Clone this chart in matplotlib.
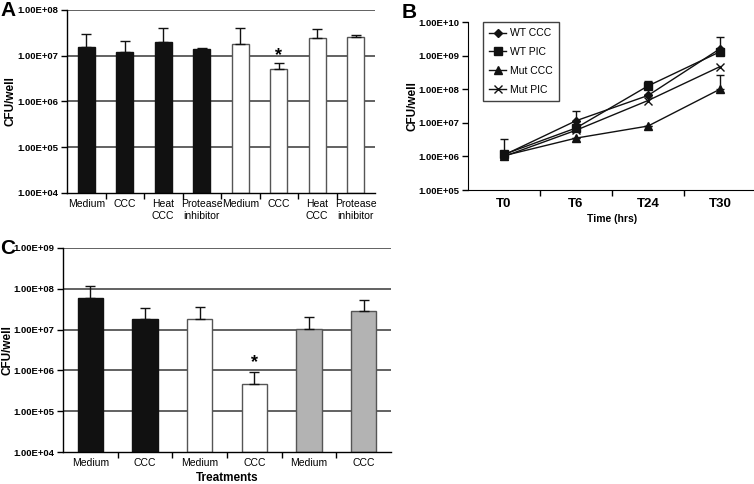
import matplotlib
matplotlib.use("Agg")
import matplotlib.pyplot as plt
import numpy as np
from matplotlib.ticker import FixedLocator, FuncFormatter

plt.rcParams['font.family'] = ['Liberation Sans', 'DejaVu Sans']
NARROW = ['Liberation Sans Narrow', 'Liberation Sans', 'DejaVu Sans']

# ---------------- data ----------------
a_labels = ["Medium", "CCC", "Heat\nCCC", "Protease\ninhibitor",
            "Medium", "CCC", "Heat\nCCC", "Protease\ninhibitor"]
a_values = [1.55e7, 1.18e7, 1.96e7, 1.37e7, 1.83e7, 5.2e6, 2.48e7, 2.6e7]
a_err_top = [3.0e7, 2.1e7, 4.1e7, 1.45e7, 4.1e7, 7.0e6, 3.8e7, 2.85e7]
a_colors = ["#111111"] * 4 + ["#ffffff"] * 4
a_star = 5

b_times = ["T0", "T6", "T24", "T30"]
b_wt_ccc = [1.1e6, 1.15e7, 6.5e7, 1.6e9]
b_wt_ccc_top = [3.2e6, 2.2e7, 6.5e7, 1.6e9]
b_wt_pic = [1.15e6, 7.0e6, 1.25e8, 1.3e9]
b_wt_pic_top = [1.15e6, 7.0e6, 1.75e8, 3.5e9]
b_mut_ccc = [1.05e6, 3.5e6, 8.0e6, 1.0e8]
b_mut_ccc_top = [1.05e6, 3.5e6, 8.0e6, 2.7e8]
b_mut_pic = [1.0e6, 6.0e6, 4.6e7, 4.7e8]

c_labels = ["Medium", "CCC", "Medium", "CCC", "Medium", "CCC"]
c_values = [6.1e7, 1.83e7, 1.87e7, 4.7e5, 1.06e7, 2.8e7]
c_err_top = [1.2e8, 3.4e7, 3.5e7, 9.0e5, 2.0e7, 5.4e7]
c_colors = ["#111111", "#111111", "#ffffff", "#ffffff", "#b3b3b3", "#b3b3b3"]
c_star = 3

W, H = 754, 484
fig = plt.figure(figsize=(W / 100, H / 100), dpi=100)

def rect(l, r, t, b):
    return [l / W, 1 - b / H, (r - l) / W, (b - t) / H]

sci = FuncFormatter(lambda v, p: f"{v:.2E}")

def place_ylabel(ax, text, xc_px, left_px, width_px):
    ax.set_ylabel(text, fontsize=8.5, fontweight='bold')
    ax.yaxis.set_label_coords((xc_px - left_px) / width_px, 0.5)
    ax.yaxis.label.set_verticalalignment('center')

def style_bar_axes(ax, n, ymin, ymax, labels):
    ax.set_yscale('log')
    ax.set_ylim(ymin, ymax)
    ax.set_xlim(-0.5, n - 0.5)
    decades = [10 ** k for k in range(int(np.log10(ymin)), int(np.log10(ymax)) + 1)]
    ax.yaxis.set_major_locator(FixedLocator(decades))
    ax.yaxis.set_minor_locator(FixedLocator([]))
    ax.yaxis.set_major_formatter(sci)
    for d in decades[1:]:
        ax.axhline(d, color='#555555', lw=1.3, zorder=0)
    for s in ['top', 'right']:
        ax.spines[s].set_visible(False)
    ax.spines['left'].set_linewidth(1.0)
    ax.spines['bottom'].set_linewidth(1.0)
    ax.tick_params(axis='y', direction='out', length=4, width=1, labelsize=6.8, pad=2)
    for t in ax.get_yticklabels():
        t.set_fontweight('bold')
    ax.set_xticks(range(n))
    ax.set_xticklabels(labels, fontsize=7.5, family=NARROW, linespacing=1.3)
    ax.tick_params(axis='x', which='major', length=0, pad=4)
    ax.xaxis.set_minor_locator(FixedLocator(np.arange(0.5, n - 0.5, 1)))
    ax.tick_params(axis='x', which='minor', direction='out', length=4, width=1)

def draw_bars(ax, values, tops, colors, width, ymin):
    x = np.arange(len(values))
    vals = np.array(values)
    ax.bar(x, vals - ymin, bottom=ymin, width=width, color=colors,
           edgecolor=['#111111' if c == '#111111' else '#555555' for c in colors],
           linewidth=1.0, zorder=2)
    err = np.array(tops) - vals
    ax.errorbar(x, vals, yerr=[np.zeros_like(vals), err], fmt='none',
                ecolor='#111111', elinewidth=1, capsize=3.5, capthick=1, zorder=3)

# ---------------- Panel A ----------------
axA = fig.add_axes(rect(67, 375, 10, 193))
draw_bars(axA, a_values, a_err_top, a_colors, 0.44, 1e4)
style_bar_axes(axA, len(a_values), 1e4, 1e8, a_labels)
place_ylabel(axA, "CFU/well", 11, 67, 308)
axA.text(a_star, a_err_top[a_star] * 1.45, "*", ha='center', va='center',
         fontsize=13, fontweight='bold')

# ---------------- Panel C ----------------
axC = fig.add_axes(rect(63, 391, 248, 452))
draw_bars(axC, c_values, c_err_top, c_colors, 0.46, 1e4)
style_bar_axes(axC, len(c_values), 1e4, 1e9, c_labels)
place_ylabel(axC, "CFU/well", 8, 63, 328)
axC.text(c_star, c_err_top[c_star] * 1.75, "*", ha='center', va='center',
         fontsize=13, fontweight='bold')
axC.set_xlabel("Treatments", fontsize=8.5, fontweight='bold', labelpad=3)

# ---------------- Panel B ----------------
axB = fig.add_axes(rect(468, 756, 22, 190))
axB.set_yscale('log')
axB.set_ylim(1e5, 1e10)
axB.set_xlim(-0.5, 3.5)
xb = np.arange(len(b_times))
series = [
    ("WT CCC", b_wt_ccc, b_wt_ccc_top, 'D', 4.5),
    ("WT PIC", b_wt_pic, b_wt_pic_top, 's', 6),
    ("Mut CCC", b_mut_ccc, b_mut_ccc_top, '^', 6),
    ("Mut PIC", b_mut_pic, None, 'x', 6),
]
for name, vals, tops, mk, ms in series:
    v = np.array(vals)
    axB.plot(xb, v, color='#111111', lw=1.0, marker=mk, ms=ms,
             mec='#111111', mfc='#111111', mew=1.0, label=name, zorder=3)
    if tops is not None:
        axB.errorbar(xb, v, yerr=[np.zeros_like(v), np.array(tops) - v], fmt='none',
                     ecolor='#111111', elinewidth=1, capsize=3, capthick=1, zorder=2)
decB = [1e5, 1e6, 1e7, 1e8, 1e9, 1e10]
axB.yaxis.set_major_locator(FixedLocator(decB))
axB.yaxis.set_minor_locator(FixedLocator([]))
axB.yaxis.set_major_formatter(sci)
for s in ['top', 'right']:
    axB.spines[s].set_visible(False)
axB.tick_params(axis='y', direction='out', length=4, width=1, labelsize=6.8, pad=2)
for t in axB.get_yticklabels():
    t.set_fontweight('bold')
axB.set_xticks(xb)
axB.set_xticklabels(b_times, fontsize=9.5, fontweight='bold')
axB.tick_params(axis='x', which='major', length=0, pad=6)
axB.xaxis.set_minor_locator(FixedLocator([0.5, 1.5, 2.5]))
axB.tick_params(axis='x', which='minor', direction='out', length=4, width=1)
axB.set_xlabel("Time (hrs)", fontsize=7.5, fontweight='bold', labelpad=3)
place_ylabel(axB, "CFU/well", 413, 468, 288)
leg = axB.legend(loc='upper left', bbox_to_anchor=((483 - 468) / 288, 1.0),
                 frameon=True, fancybox=False, edgecolor='#111111',
                 prop={'family': NARROW, 'size': 7.5}, handlelength=1.6,
                 labelspacing=0.85, borderpad=0.6, handletextpad=0.4,
                 borderaxespad=0)
leg.get_frame().set_linewidth(1.0)

# ---------------- panel letters ----------------
fig.text(0 / W, 1 - 11 / H, "A", fontsize=15, fontweight='bold', va='center', ha='left')
fig.text(402 / W, 1 - 12 / H, "B", fontsize=15, fontweight='bold', va='center', ha='left')
fig.text(0 / W, 1 - 249 / H, "C", fontsize=15, fontweight='bold', va='center', ha='left')

fig.savefig("out.png", dpi=100)
